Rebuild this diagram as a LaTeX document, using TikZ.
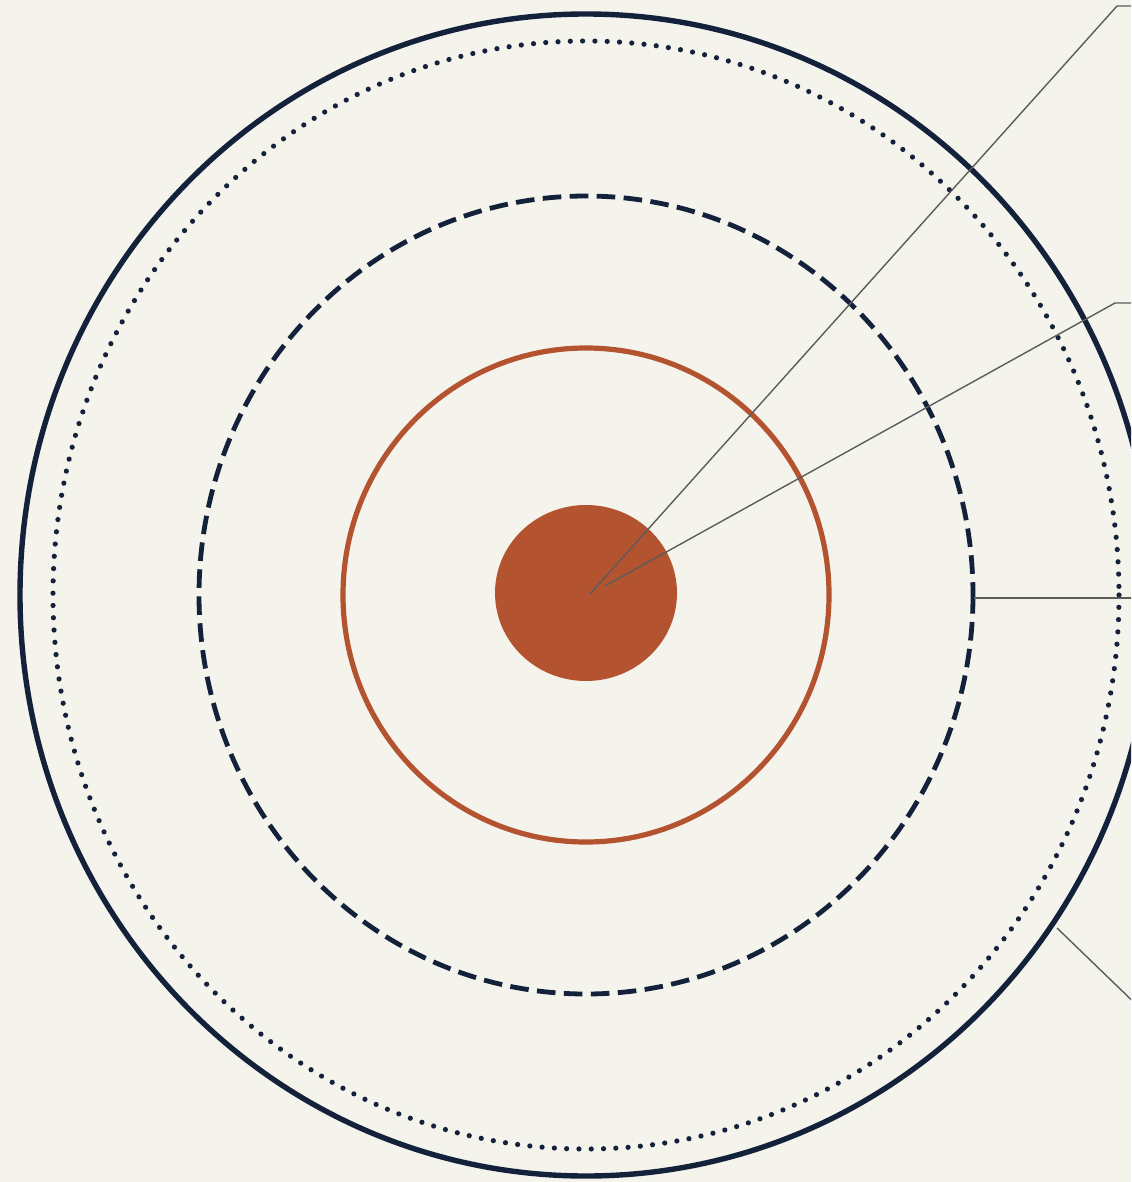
\documentclass[tikz,border=0pt]{standalone}
\usepackage{xcolor}
\usepackage{tikz}
\usetikzlibrary{calc}
\definecolor{paper}{HTML}{F4F3EC}
\definecolor{navy}{HTML}{13223A}
\definecolor{rust}{HTML}{B4532F}
\definecolor{leadgrey}{HTML}{5C5C5C}

\begin{document}
\begin{tikzpicture}[x=0.5pt,y=-0.5pt,
    ring/.style={draw=navy,line width=2pt},
    dotring/.style={ring,line width=2.6pt,line cap=round,dash pattern=on 0pt off 6.15pt},
    dashring/.style={ring,line width=2.4pt,dash pattern=on 9.3pt off 4.2pt},
    leader/.style={draw=leadgrey,line width=0.7pt}]
  \clip (0,0) rectangle (1131,1182);
  \fill[paper] (0,0) rectangle (1131,1182);
  \coordinate (hub) at (586,595);

  % rings, outside in
  \draw[ring,line width=2.7pt] (hub) ellipse [x radius=566,y radius=581];
  \draw[dotring] (hub) ellipse [x radius=533,y radius=554];
  \draw[dashring] (hub) ellipse [x radius=387,y radius=399];
  \draw[draw=rust,line width=2.6pt] (hub) ellipse [x radius=243,y radius=247];
  \fill[rust] (586,593) ellipse [x radius=91,y radius=88];

  % leader lines
  \coordinate (tipA) at (590,594);
  \coordinate (bendA) at (1117,6);
  \coordinate (endA) at (1140,6);
  \coordinate (tipB) at (605,586);
  \coordinate (bendB) at (1115,303);
  \coordinate (endB) at (1140,303);
  \coordinate (dashE) at (974,598);
  \coordinate (endC) at (1140,598);
  \coordinate (rimSE) at (1057,928);
  \coordinate (endD) at (1145,1013);
  \draw[leader] (tipA) -- (bendA) -- (endA);
  \draw[leader] (tipB) -- (bendB) -- (endB);
  \draw[leader] (dashE) -- (endC);
  \draw[leader] (rimSE) -- (endD);
\end{tikzpicture}
\end{document}
